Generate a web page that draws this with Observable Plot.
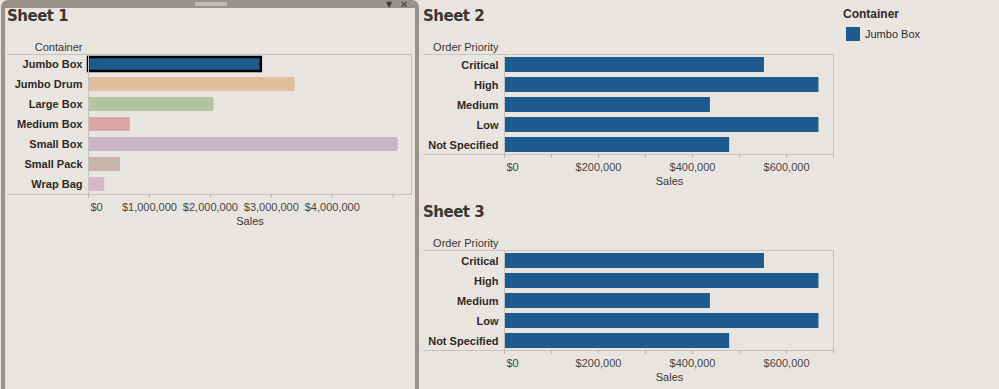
<!DOCTYPE html>
<html>
<head>
<meta charset="utf-8">
<script src="https://cdn.jsdelivr.net/npm/d3@7"></script>
<script src="https://cdn.jsdelivr.net/npm/@observablehq/plot@0.6"></script>
<style>
  html, body { margin: 0; padding: 0; }
  body { width: 999px; height: 389px; overflow: hidden; background: #e8e5e1; position: relative;
         font-family: "Liberation Sans", Arial, sans-serif; }
  .abs { position: absolute; }
  .title { position: absolute; font-family: "DejaVu Sans", sans-serif; font-weight: bold; font-size: 15px; color: #3c3530; letter-spacing: -0.5px; }
  .frame { position: absolute; border-top: 1px solid #c6c2bd; border-right: 1px solid #c6c2bd; border-bottom: 1px solid #c6c2bd; box-sizing: border-box; }
  svg.plot { background: transparent !important; overflow: visible; }
</style>
</head>
<body>
<div class="abs" style="left:1px;top:0;width:410px;height:400px;border:4px solid #9b918a;border-top-width:8px;border-radius:7px 7px 0 0;"></div>
<div class="abs" style="left:195px;top:2px;width:32px;height:4px;background-image:radial-gradient(circle, #d8d3ce 0.6px, transparent 0.9px);background-size:2px 2px;"></div>
<div class="abs" style="left:386px;top:1px;font-size:8px;line-height:8px;height:8px;color:#3d3936;font-family:'DejaVu Sans',sans-serif;">▼</div>
<div class="abs" style="left:400px;top:0px;font-size:10px;line-height:9px;height:9px;color:#3d3936;font-family:'DejaVu Sans',sans-serif;">✕</div>

<div class="title" style="left:7px;top:7px;">Sheet 1</div>
<div class="title" style="left:423px;top:7px;">Sheet 2</div>
<div class="title" style="left:423px;top:203px;">Sheet 3</div>

<div class="frame" style="left:7px;top:54px;width:405px;height:141px;"></div>
<div class="frame" style="left:423px;top:54px;width:411px;height:101px;"></div>
<div class="frame" style="left:423px;top:250px;width:411px;height:101px;"></div>

<div class="abs" style="left:843px;top:7px;font-weight:bold;font-size:12px;color:#2f2b28;">Container</div>
<div id="legend" class="abs" style="left:846px;top:26px;"></div>

<div id="c1" class="abs" style="left:0;top:40px;"></div>
<div id="c2" class="abs" style="left:420px;top:40px;"></div>
<div id="c3" class="abs" style="left:420px;top:236px;"></div>

<script>
// ---- data ----
const containers = ["Jumbo Box", "Jumbo Drum", "Large Box", "Medium Box", "Small Box", "Small Pack", "Wrap Bag"];
const containerSales = [2836000, 3390000, 2060000, 687000, 5080000, 524000, 267000];
const containerColors = ["#1d5a8e", "#e3bd9c", "#b3c6a1", "#daa7a2", "#c8b6c5", "#c8b4ab", "#dab6c7"];
const selectedContainer = "Jumbo Box";

const priorities = ["Critical", "High", "Medium", "Low", "Not Specified"];
const sheet2Sales = [553000, 669000, 438000, 669000, 479000];
const sheet3Sales = [553000, 669000, 438000, 669000, 479000];

const sheet1Ticks = [0, 1000000, 2000000, 3000000, 4000000, 5000000];
const sheet1Labels = [0, 1000000, 2000000, 3000000, 4000000];
const sheet23Ticks = [0, 100000, 200000, 300000, 400000, 500000, 600000, 700000];
const sheet23Labels = [0, 200000, 400000, 600000];

const legendItems = ["Jumbo Box"];
const legendColors = ["#1d5a8e"];

// ---- helpers ----
const fmt = d3.format("$,.0f");
const FONT = "'Liberation Sans', Arial, sans-serif";
const tickColor = "#bab6b1";
const labelColor = "#2e2a27";
const tickLabelColor = "#4a4643";

function axisMarks(ticks, labels) {
  return [
    Plot.ruleX([0], {stroke: "#c6c2bd"}),
    Plot.axisX(ticks, {tickSize: 4, tickFormat: () => "", stroke: tickColor, label: null}),
    Plot.axisX(labels.filter(d => d !== 0), {tickSize: 0, tickPadding: 9, tickFormat: fmt, fill: tickLabelColor, fontSize: 11, label: null}),
    Plot.axisX(labels.filter(d => d === 0), {tickSize: 0, tickPadding: 9, tickFormat: fmt, fill: tickLabelColor, fontSize: 11, textAnchor: "start", dx: 2, label: null}),
    Plot.text(["Sales"], {frameAnchor: "bottom", dy: 27, lineAnchor: "middle", fill: "#3a3633", fontSize: 11, text: d => d})
  ];
}

function yMarks(header) {
  return [
    Plot.axisY({tickSize: 0, tickPadding: 6, fontWeight: "bold", fontSize: 11, fill: labelColor, label: null}),
    Plot.text([header], {frameAnchor: "top-left", textAnchor: "end", lineAnchor: "middle", dx: -6, dy: -7, fill: "#3a3633", fontSize: 11, text: d => d})
  ];
}

// ---- Sheet 1 ----
const data1 = containers.map((c, i) => ({container: c, sales: containerSales[i]}));
const p1 = Plot.plot({
  width: 420, height: 200,
  marginLeft: 88, marginRight: 9, marginTop: 14, marginBottom: 46,
  style: {fontFamily: FONT, fontSize: "11px", background: "transparent"},
  x: {domain: [0, 5300000], axis: null},
  y: {domain: containers, paddingInner: 0.28, paddingOuter: 0.14, axis: null},
  color: {domain: containers, range: containerColors},
  marks: [
    Plot.barX(data1, {x: "sales", y: "container", fill: "container",
      stroke: d => d.container === selectedContainer ? "#000" : "none", strokeWidth: 2.5}),
    ...axisMarks(sheet1Ticks, sheet1Labels),
    ...yMarks("Container")
  ]
});
document.getElementById("c1").appendChild(p1);

// ---- Sheets 2 and 3 ----
function prioritySheet(values) {
  const data = priorities.map((p, i) => ({priority: p, sales: values[i]}));
  return Plot.plot({
    width: 420, height: 160,
    marginLeft: 84, marginRight: 6, marginTop: 14, marginBottom: 46,
    style: {fontFamily: FONT, fontSize: "11px", background: "transparent"},
    x: {domain: [0, 702000], axis: null},
    y: {domain: priorities, paddingInner: 0.27, paddingOuter: 0.135, axis: null},
    marks: [
      Plot.barX(data, {x: "sales", y: "priority", fill: "#1d5a8e"}),
      ...axisMarks(sheet23Ticks, sheet23Labels),
      ...yMarks("Order Priority")
    ]
  });
}
document.getElementById("c2").appendChild(prioritySheet(sheet2Sales));
document.getElementById("c3").appendChild(prioritySheet(sheet3Sales));

// ---- Legend ----
const leg = document.getElementById("legend");
legendItems.forEach((name, i) => {
  const row = document.createElement("div");
  row.style.cssText = "display:flex;align-items:center;height:15px;font-size:11px;color:#2f2b28;";
  const sw = document.createElement("span");
  sw.style.cssText = `display:inline-block;width:14px;height:14px;background:${legendColors[i]};margin-right:5px;`;
  row.appendChild(sw);
  row.appendChild(document.createTextNode(name));
  leg.appendChild(row);
});
</script>
</body>
</html>
